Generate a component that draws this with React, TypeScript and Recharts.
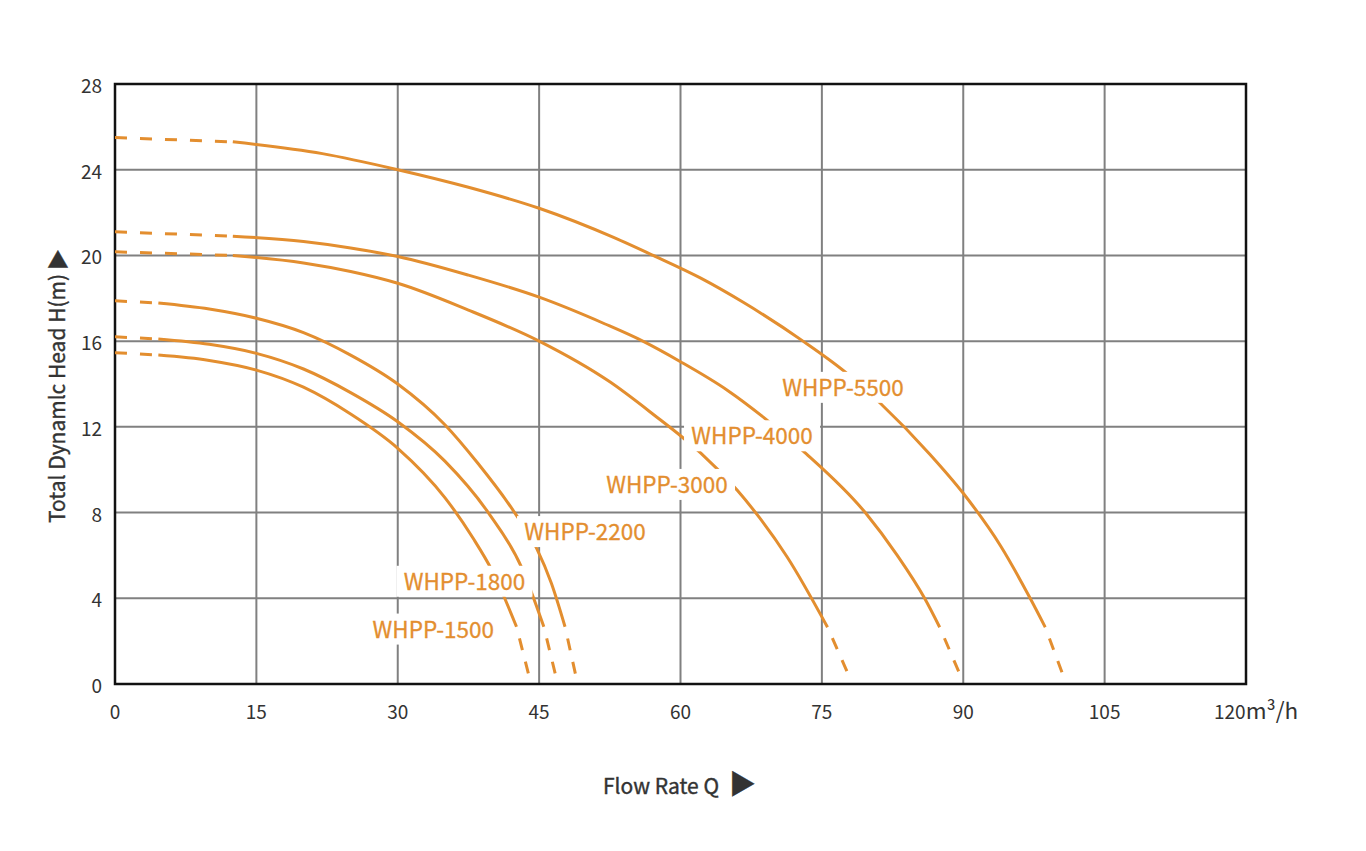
import React from 'react';
import {
  CartesianGrid,
  Line,
  LineChart,
  ReferenceArea,
  ReferenceDot,
  XAxis,
  YAxis,
} from 'recharts';

const flowTicks = [0, 15, 30, 45, 60, 75, 90, 105, 120];
const headTicks = [0, 4, 8, 12, 16, 20, 24, 28];

const pumpNames = ['WHPP-1500', 'WHPP-1800', 'WHPP-2200', 'WHPP-3000', 'WHPP-4000', 'WHPP-5500'];

// flow (m3/h) / head (m)
const flow1500 = [0, 4.6, 10, 15, 20, 25, 30, 35, 38, 40, 42.6, 43.9];
const head1500 = [15.46, 15.35, 15.1, 14.65, 13.85, 12.6, 11.0, 8.7, 6.8, 5.3, 2.67, 0.42];

const flow1800 = [0, 4.6, 10, 15, 20, 25, 30, 35, 39.6, 43.1, 45.5, 46.7];
const head1800 = [16.2, 16.1, 15.85, 15.43, 14.7, 13.6, 12.24, 10.4, 8.0, 5.48, 2.67, 0.5];

const flow2200 = [0, 4.6, 10, 15, 20, 25, 30, 35, 38.5, 42.4, 44.74, 46.3, 47.75, 48.9];
const head2200 = [17.88, 17.78, 17.5, 17.07, 16.4, 15.35, 14.0, 12.1, 10.3, 8.0, 6.33, 4.7, 2.67, 0.37];

const flow3000 = [0, 12.5, 20, 25, 30, 37.5, 45, 52.5, 57.5, 60.1, 62.1, 66, 68.4, 71.3, 75.6, 77.8];
const head3000 = [20.17, 20.0, 19.65, 19.25, 18.7, 17.45, 16.0, 14.1, 12.45, 11.55, 10.8, 9.05, 7.75, 5.94, 2.65, 0.45];

const flow4000 = [0, 12.5, 20, 25, 30, 37.5, 45, 52, 56, 60, 65, 69.5, 73.2, 79.6, 83, 85.9, 87.5, 89.7];
const head4000 = [21.1, 20.9, 20.65, 20.35, 19.95, 19.08, 18.05, 16.8, 16.0, 15.04, 13.7, 12.2, 10.8, 8.0, 6.0, 4.0, 2.65, 0.4];

const flow5500 = [0, 12.5, 22, 30, 37.5, 45, 52.9, 57.1, 62.1, 66.7, 73, 77.5, 81.2, 86.5, 90, 94, 97.1, 98.7, 100.6];
const head5500 = [25.5, 25.3, 24.75, 24.0, 23.18, 22.2, 20.84, 20.0, 18.95, 17.8, 16.0, 14.55, 13.1, 10.7, 8.9, 6.42, 4.0, 2.65, 0.4];

// where each curve turns from dashed to solid and back
const solidFrom = [4.6, 4.6, 4.6, 12.5, 12.5, 12.5];
const solidTo = [42.6, 45.5, 47.75, 75.6, 87.5, 98.7];

// label anchors (flow, head)
const labelFlow = [33.77, 37.08, 49.87, 58.57, 67.59, 77.24];
const labelHead = [2.54, 4.77, 7.09, 9.29, 11.56, 13.82];

const flows = [flow1500, flow1800, flow2200, flow3000, flow4000, flow5500];
const heads = [head1500, head1800, head2200, head3000, head4000, head5500];

const ORANGE = '#E38E2F';
const FONT = '"Noto Sans CJK SC", "Noto Sans", sans-serif';

const curves = flows.map((fl, i) => {
  const pts = fl.map((q, k) => ({ q, h: heads[i][k] }));
  return {
    head: pts.filter((p) => p.q <= solidFrom[i]),
    body: pts.filter((p) => p.q >= solidFrom[i] && p.q <= solidTo[i]),
    tail: pts.filter((p) => p.q >= solidTo[i]),
  };
});

const FlowTick = (props: any) => {
  const { x, y, payload } = props;
  if (payload.value === 120) {
    return (
      <text x={x - 32} y={y} dy={35} textAnchor="start" fontSize={19} fill="#333" fontFamily={FONT}>
        120<tspan fontSize={22.5}>m³/h</tspan>
      </text>
    );
  }
  return (
    <text x={x} y={y} dy={35} textAnchor="middle" fontSize={19} fill="#333" fontFamily={FONT}>
      {payload.value}
    </text>
  );
};

const HeadTick = (props: any) => {
  const { x, y, payload } = props;
  return (
    <text x={x - 13} y={y} dy={9} textAnchor="end" fontSize={19} fill="#333" fontFamily={FONT}>
      {payload.value}
    </text>
  );
};

const PumpLabel = ({ cx, cy, text }: { cx: number; cy: number; text: string }) => (
  <g>
    <rect x={cx - 68} y={cy - 16} width={136} height={31} fill="#fff" />
    <text
      x={cx}
      y={cy + 8}
      textAnchor="middle"
      fontSize={22.5}
      fill={ORANGE}
      stroke={ORANGE}
      strokeWidth={0.3}
      fontFamily={FONT}
    >
      {text}
    </text>
  </g>
);

export default function App() {
  return (
    <div style={{ position: 'absolute', left: 0, top: 0, background: '#fff' }}>
      <LineChart
        width={1366}
        height={851}
        margin={{ top: 84, right: 120, left: 55, bottom: 127 }}
      >
        <CartesianGrid stroke="#808080" strokeWidth={2} />
        <XAxis
          dataKey="q"
          type="number"
          domain={[0, 120]}
          ticks={flowTicks}
          allowDataOverflow
          height={40}
          tickLine={false}
          axisLine={false}
          tickSize={0}
          tickMargin={0}
          tick={<FlowTick />}
          label={(p: any) => {
            const vb = p.viewBox;
            return (
              <text
                x={vb.x + vb.width / 2 - 1}
                y={vb.y + 110}
                textAnchor="middle"
                fontSize={21}
                fill="#333"
                stroke="#333"
                strokeWidth={0.4}
                fontFamily={FONT}
              >
                Flow Rate Q<tspan dx={10} fontSize={27}>▶</tspan>
              </text>
            );
          }}
        />
        <YAxis
          type="number"
          domain={[0, 28]}
          ticks={headTicks}
          allowDataOverflow
          width={60}
          tickLine={false}
          axisLine={false}
          tickSize={0}
          tickMargin={0}
          tick={<HeadTick />}
          label={(p: any) => {
            const vb = p.viewBox;
            const cx = 65;
            const cy = vb.y + vb.height / 2 + 2;
            return (
              <text
                x={cx}
                y={cy}
                transform={`rotate(-90 ${cx} ${cy})`}
                textAnchor="middle"
                fontSize={21}
                fill="#333"
                stroke="#333"
                strokeWidth={0.4}
                fontFamily={FONT}
              >
                Total Dynamlc Head H(m)<tspan dx={4} fontSize={21}>▶</tspan>
              </text>
            );
          }}
        />
        {curves.map((c, i) => (
          <Line
            key={`h${i}`}
            data={c.head}
            dataKey="h"
            type="monotone"
            stroke={ORANGE}
            strokeWidth={3}
            strokeDasharray="12 13"
            dot={false}
            activeDot={false}
            isAnimationActive={false}
          />
        ))}
        {curves.map((c, i) => (
          <Line
            key={`b${i}`}
            data={c.body}
            dataKey="h"
            type="monotone"
            stroke={ORANGE}
            strokeWidth={3}
            dot={false}
            activeDot={false}
            isAnimationActive={false}
          />
        ))}
        {curves.map((c, i) => (
          <Line
            key={`t${i}`}
            data={c.tail}
            dataKey="h"
            type="linear"
            stroke={ORANGE}
            strokeWidth={3}
            strokeDasharray="12 12"
            strokeDashoffset={12}
            dot={false}
            activeDot={false}
            isAnimationActive={false}
          />
        ))}
        <ReferenceArea
          x1={0}
          x2={120}
          y1={0}
          y2={28}
          fill="none"
          fillOpacity={0}
          stroke="#111"
          strokeWidth={2.5}
          ifOverflow="visible"
        />
        {pumpNames.map((name, i) => (
          <ReferenceDot
            key={name}
            x={labelFlow[i]}
            y={labelHead[i]}
            r={0}
            ifOverflow="visible"
            shape={(p: any) => <PumpLabel cx={p.cx} cy={p.cy} text={name} />}
          />
        ))}
      </LineChart>
    </div>
  );
}
